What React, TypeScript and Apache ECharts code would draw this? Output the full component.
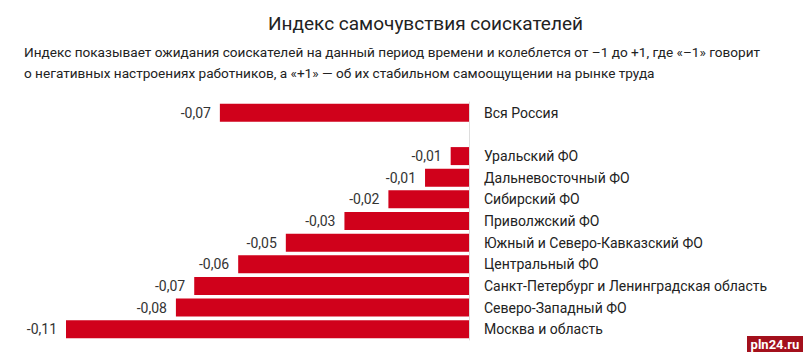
import React, { useEffect, useRef } from "react";
import * as echarts from "echarts";

const categories = [
  "Вся Россия",
  "",
  "Уральский ФО",
  "Дальневосточный ФО",
  "Сибирский ФО",
  "Приволжский ФО",
  "Южный и Северо-Кавказский ФО",
  "Центральный ФО",
  "Санкт-Петербург и Ленинградская область",
  "Северо-Западный ФО",
  "Москва и область",
];
const values: (number | null)[] = [
  -0.068, null, -0.005, -0.012, -0.022, -0.034, -0.05, -0.063, -0.075, -0.08, -0.11,
];
const valueLabels = [
  "-0,07", "", "-0,01", "-0,01", "-0,02", "-0,03", "-0,05", "-0,06", "-0,07", "-0,08", "-0,11",
];
const titleText = "Индекс самочувствия соискателей";
const subtitleText =
  "Индекс показывает ожидания соискателей на данный период времени и колеблется от –1 до +1, где «–1» говорит\nо негативных настроениях работников, а «+1» — об их стабильном самоощущении на рынке труда";

const FONT = "Roboto, 'Noto Sans', sans-serif";

export default function App() {
  const ref = useRef<HTMLDivElement>(null);
  useEffect(() => {
    if (!ref.current) return;
    const chart = echarts.init(ref.current, null, { renderer: "svg" });
    chart.setOption({
      animation: false,
      backgroundColor: "#ffffff",
      textStyle: { fontFamily: FONT },
      title: {
        text: titleText,
        left: 263,
        top: 9,
        textStyle: { fontFamily: FONT, fontSize: 19, fontWeight: "normal", color: "#222" },
      },
      graphic: [
        {
          type: "text",
          left: 24,
          top: 41,
          style: {
            text: subtitleText,
            fontFamily: FONT,
            fontSize: 13.6,
            lineHeight: 21,
            fill: "#222",
          },
        },
        {
          type: "rect",
          shape: { x: 747, y: 336, width: 56, height: 16 },
          style: { fill: "#a3101c" },
        },
        {
          type: "text",
          x: 775,
          y: 344,
          style: {
            text: "pln24.ru",
            fontFamily: FONT,
            fontSize: 13,
            fontWeight: "bold",
            fill: "#ffffff",
            align: "center",
            verticalAlign: "middle",
          },
        },
      ],
      grid: { left: 66, right: 334, top: 102, height: 238 },
      xAxis: {
        type: "value",
        min: -0.11,
        max: 0,
        show: false,
      },
      yAxis: {
        type: "category",
        data: categories,
        inverse: true,
        position: "right",
        axisLine: { show: true, lineStyle: { color: "#dddddd", width: 1 } },
        axisTick: { show: false },
        splitLine: { show: false },
        axisLabel: { margin: 15, color: "#222", fontSize: 14, fontFamily: FONT },
      },
      series: [
        {
          type: "bar",
          data: values,
          barWidth: 18,
          itemStyle: { color: "#d0011b" },
          label: {
            show: true,
            position: "left",
            distance: 9,
            color: "#333",
            fontSize: 14,
            fontFamily: FONT,
            formatter: (p: any) => valueLabels[p.dataIndex],
          },
        },
      ],
    });
    return () => chart.dispose();
  }, []);
  return <div ref={ref} style={{ width: 803, height: 352, position: "absolute", left: 0, top: 0 }} />;
}
